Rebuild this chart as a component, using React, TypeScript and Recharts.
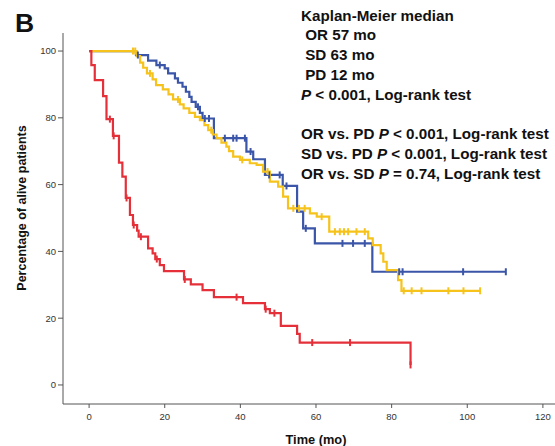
import { LineChart, Line, XAxis, YAxis } from 'recharts'

// Kaplan-Meier step curves: event times (mo), survival (%) after each event, censor times
const orTimes = [12.4, 15.6, 17.8, 20, 20.9, 22.7, 23.5, 24.7, 25.6, 26.5, 27.1, 28.2, 29.3, 30, 33, 41.6, 43.4, 46.5, 51.2, 55, 56.6, 59.7, 74.9]
const orSurv = [98.8, 97.1, 95.8, 94.8, 93.3, 91.8, 90.5, 89.3, 87.8, 86.3, 84.8, 83.3, 81.5, 79.8, 73.9, 69.9, 67.6, 62.9, 59.6, 51.9, 46.9, 42.4, 33.9]
const orCensor = [12.9, 18.7, 28.8, 30.6, 31.7, 35.9, 38.1, 39, 41.2, 42.7, 47.6, 50.4, 52.2, 57.3, 67, 69.8, 72.9, 82, 82.9, 98.9, 110.2]

const sdTimes = [12.6, 13.5, 14.3, 15.3, 16.8, 17.7, 19.5, 21, 22.2, 24, 25, 26.5, 28, 29.3, 30.5, 31.5, 32.7, 33.7, 35, 36.3, 37, 38.1, 39.9, 42.5, 44.3, 46, 47.8, 50, 51.3, 52.6, 58.4, 60.2, 63.5, 73.8, 75, 77.1, 77.8, 78.7, 81.7, 82.6]
const sdSurv = [98.5, 96.5, 95, 93.3, 91.5, 89.8, 88.5, 87, 85.5, 84, 82.8, 81.5, 80.3, 79.3, 77.8, 76.3, 75, 73.9, 72.6, 71.4, 70, 68.4, 67.4, 66.4, 65.9, 63.9, 60.9, 59.4, 56.4, 52.9, 51.4, 50.4, 45.9, 43.9, 41.9, 39.4, 36.9, 34.4, 31.4, 28.2]
const sdCensor = [11.6, 12.2, 16.1, 23.5, 32.3, 40.5, 47.2, 54, 55.5, 57, 61.5, 65, 66.3, 67.4, 68.5, 70.7, 72.9, 83.2, 85.3, 87.9, 95, 99, 103.4]

const pdTimes = [0.6, 1.5, 3.7, 4.6, 6.3, 7.9, 8.8, 9.7, 10.8, 11.6, 12.7, 13.1, 15.6, 16.8, 17.5, 18.7, 19.8, 25.1, 26.9, 30, 33, 40.7, 46.5, 47.8, 50.7, 55, 55.7, 85]
const pdSurv = [95.8, 91.3, 86.5, 79.6, 74.6, 66.6, 62.4, 56, 50.9, 47.9, 46.2, 44.4, 40.9, 39.4, 37.7, 35.9, 34.1, 31.6, 30.1, 28.4, 26.3, 24.5, 22.7, 21.5, 17.7, 15.3, 12.7, 6]
const pdCensor = [5.5, 6.5, 9.9, 11.8, 13.7, 17.9, 25.3, 39, 46.7, 49, 59, 69, 85]

const xTicks = [0, 20, 40, 60, 80, 100, 120]
const yTicks = [0, 20, 40, 60, 80, 100]

const BLUE = '#3b55a8'
const GOLD = '#f6c31c'
const RED = '#e5303a'
const FONT = '"Liberation Sans", Arial, sans-serif'

type Pt = { t: number; s: number; censor?: boolean }

function buildCurve(times: number[], surv: number[], censors: number[]): Pt[] {
  const pts: Pt[] = [{ t: 0, s: 100 }]
  times.forEach((t, i) => pts.push({ t, s: surv[i] }))
  censors.forEach((t) => {
    let level = 100
    times.forEach((et, i) => { if (et <= t) level = surv[i] })
    pts.push({ t, s: level, censor: true })
  })
  // stable sort keeps the event before a censor at the same time
  return pts.sort((a, b) => a.t - b.t)
}

const orData = buildCurve(orTimes, orSurv, orCensor)
const sdData = buildCurve(sdTimes, sdSurv, sdCensor)
const pdData = buildCurve(pdTimes, pdSurv, pdCensor)

const censorDot = (color: string) => (props: any) => {
  const { cx, cy, payload, index } = props
  if (!payload?.censor) return <g key={index} />
  return (
    <line key={index} x1={cx} x2={cx} y1={cy - 3.5} y2={cy + 3.5} stroke={color} strokeWidth={2} />
  )
}

export default function App() {
  return (
    <div style={{ position: 'absolute', left: 0, top: 0, width: 555, height: 446, overflow: 'hidden', background: '#fff', fontFamily: FONT }}>
      <LineChart width={555} height={446} margin={{ top: 33, right: 0, bottom: 0, left: 0 }}>
        <XAxis
          type="number"
          dataKey="t"
          domain={[-6.9, 123.2]}
          ticks={xTicks}
          allowDataOverflow
          height={42}
          tickSize={4}
          tickMargin={5}
          stroke="#555"
          tick={{ fill: '#333', fontSize: 9.5, fontFamily: FONT }}
        />
        <YAxis
          type="number"
          domain={[-5.7, 105.4]}
          ticks={yTicks}
          allowDataOverflow
          width={63}
          tickSize={5}
          tickMargin={2}
          stroke="#555"
          tick={{ fill: '#333', fontSize: 9.5, fontFamily: FONT }}
        />
        <Line data={orData} dataKey="s" type="stepAfter" stroke={BLUE} strokeWidth={2.2} dot={censorDot(BLUE)} activeDot={false} isAnimationActive={false} />
        <Line data={sdData} dataKey="s" type="stepAfter" stroke={GOLD} strokeWidth={2.2} dot={censorDot(GOLD)} activeDot={false} isAnimationActive={false} />
        <Line data={pdData} dataKey="s" type="stepAfter" stroke={RED} strokeWidth={2.2} dot={censorDot(RED)} activeDot={false} isAnimationActive={false} />
      </LineChart>

      <div style={{ position: 'absolute', left: 15, top: 10, fontSize: 26.5, fontWeight: 700, lineHeight: 1, color: '#111' }}>B</div>

      <div style={{ position: 'absolute', left: 301, top: 5.5, fontSize: 15.2, fontWeight: 700, lineHeight: '19.8px', color: '#111', whiteSpace: 'pre' }}>
        <div>Kaplan-Meier median</div>
        <div> OR 57 mo</div>
        <div> SD 63 mo</div>
        <div> PD 12 mo</div>
        <div><i>P</i> &lt; 0.001, Log-rank test</div>
        <div>&nbsp;</div>
        <div>OR vs. PD <i>P</i> &lt; 0.001, Log-rank test</div>
        <div>SD vs. PD <i>P</i> &lt; 0.001, Log-rank test</div>
        <div>OR vs. SD <i>P</i> = 0.74, Log-rank test</div>
      </div>

      <div style={{ position: 'absolute', left: 316, top: 439, transform: 'translate(-50%, -50%)', fontSize: 12.8, fontWeight: 700, color: '#111', whiteSpace: 'nowrap' }}>
        Time (mo)
      </div>
      <div style={{ position: 'absolute', left: 22, top: 208, transform: 'translate(-50%, -50%) rotate(-90deg)', fontSize: 12.5, fontWeight: 700, color: '#111', whiteSpace: 'nowrap' }}>
        Percentage of alive patients
      </div>
    </div>
  )
}
